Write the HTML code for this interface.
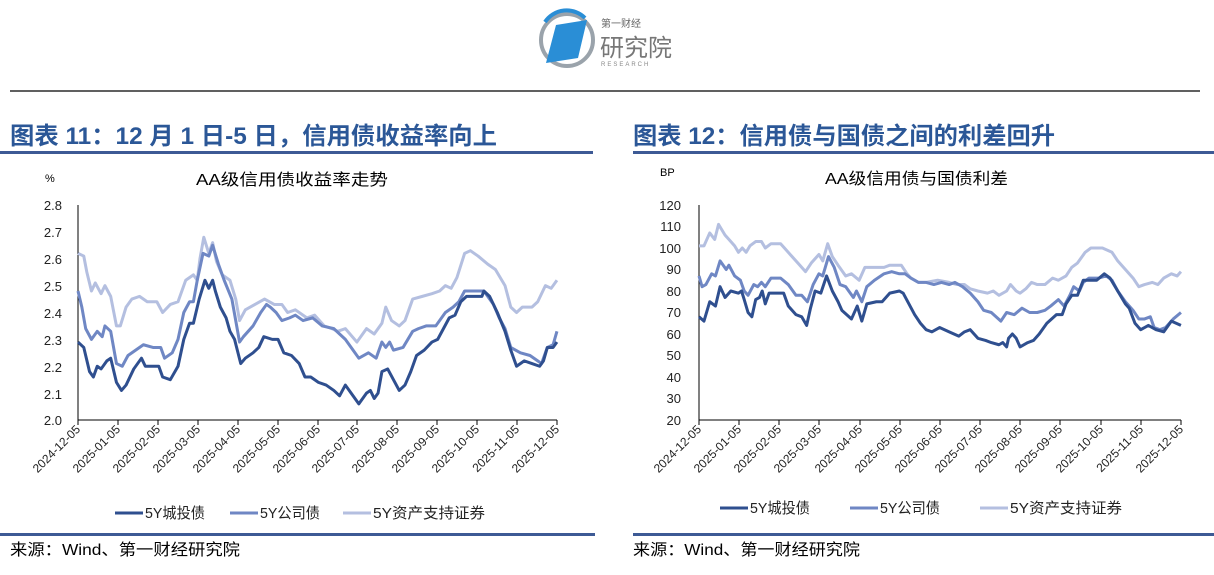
<!DOCTYPE html>
<html><head><meta charset="utf-8"><style>
body{margin:0;background:#fff}
svg text{font-family:"Liberation Sans","Noto Sans CJK SC",sans-serif}
</style></head><body>
<svg width="1214" height="570" xmlns="http://www.w3.org/2000/svg">
<!-- logo -->
<circle cx="567" cy="40" r="26" fill="none" stroke="#9aa3ab" stroke-width="4"/>
<path d="M545 22 A26 26 0 0 1 585 18" fill="none" stroke="#2a8ed6" stroke-width="4"/>
<polygon points="556,25 587,20 578,58 546,63" fill="#2a8ed6"/>
<text x="601" y="27" font-size="10" fill="#666">第一财经</text>
<text x="600" y="56" font-size="24" fill="#777">研究院</text>
<text x="601" y="66" font-size="6" fill="#888" letter-spacing="2">RESEARCH</text>
<line x1="10" y1="91" x2="1200" y2="91" stroke="#000" stroke-width="1.2"/>
<!-- titles -->
<text x="10" y="144" font-size="24" font-weight="bold" fill="#2b5797" textLength="487" lengthAdjust="spacingAndGlyphs">图表 11：12 月 1 日-5 日，信用债收益率向上</text>
<text x="633" y="144" font-size="24" font-weight="bold" fill="#2b5797" textLength="422" lengthAdjust="spacingAndGlyphs">图表 12：信用债与国债之间的利差回升</text>
<rect x="0" y="151" width="593" height="3" fill="#3d5a95"/>
<rect x="633" y="151" width="581" height="3" fill="#3d5a95"/>
<rect x="0" y="533" width="595" height="3" fill="#3d5a95"/>
<rect x="633" y="533" width="581" height="3" fill="#3d5a95"/>
<text x="10" y="555" font-size="16" fill="#000" textLength="230" lengthAdjust="spacingAndGlyphs">来源：Wind、第一财经研究院</text>
<text x="633" y="555" font-size="16" fill="#000" textLength="227" lengthAdjust="spacingAndGlyphs">来源：Wind、第一财经研究院</text>

<!-- LEFT chart -->
<text x="45" y="182" font-size="11">%</text>
<text x="196" y="185" font-size="16" textLength="192" lengthAdjust="spacingAndGlyphs">AA级信用债收益率走势</text>
<g font-size="13" text-anchor="end" fill="#222">
<text x="62" y="210">2.8</text><text x="62" y="237">2.7</text><text x="62" y="264">2.6</text><text x="62" y="291">2.5</text><text x="62" y="318">2.4</text><text x="62" y="345">2.3</text><text x="62" y="372">2.2</text><text x="62" y="399">2.1</text><text x="62" y="425">2.0</text>
</g>
<line x1="78" y1="205" x2="78" y2="420" stroke="#000"/>
<line x1="78" y1="420" x2="557" y2="420" stroke="#000"/>
<g stroke="#000">
<line x1="78" y1="420" x2="78" y2="425"/><line x1="118" y1="420" x2="118" y2="425"/><line x1="158" y1="420" x2="158" y2="425"/><line x1="198" y1="420" x2="198" y2="425"/><line x1="238" y1="420" x2="238" y2="425"/><line x1="278" y1="420" x2="278" y2="425"/><line x1="318" y1="420" x2="318" y2="425"/><line x1="357" y1="420" x2="357" y2="425"/><line x1="397" y1="420" x2="397" y2="425"/><line x1="437" y1="420" x2="437" y2="425"/><line x1="477" y1="420" x2="477" y2="425"/><line x1="517" y1="420" x2="517" y2="425"/><line x1="557" y1="420" x2="557" y2="425"/>
</g>
<g font-size="12" text-anchor="end" fill="#222">
<text transform="translate(81,430) rotate(-45)">2024-12-05</text>
<text transform="translate(121,430) rotate(-45)">2025-01-05</text>
<text transform="translate(161,430) rotate(-45)">2025-02-05</text>
<text transform="translate(201,430) rotate(-45)">2025-03-05</text>
<text transform="translate(241,430) rotate(-45)">2025-04-05</text>
<text transform="translate(281,430) rotate(-45)">2025-05-05</text>
<text transform="translate(321,430) rotate(-45)">2025-06-05</text>
<text transform="translate(360,430) rotate(-45)">2025-07-05</text>
<text transform="translate(400,430) rotate(-45)">2025-08-05</text>
<text transform="translate(440,430) rotate(-45)">2025-09-05</text>
<text transform="translate(480,430) rotate(-45)">2025-10-05</text>
<text transform="translate(520,430) rotate(-45)">2025-11-05</text>
<text transform="translate(560,430) rotate(-45)">2025-12-05</text>
</g>
<g transform="translate(-0.87,420) scale(0.3847,-268.75)" fill="none" stroke-width="3" stroke-linejoin="round">
<polyline vector-effect="non-scaling-stroke" stroke="#b4bfe0" points="205,0.62 220,0.61 228,0.55 240,0.48 250,0.51 265,0.47 275,0.50 290,0.46 305,0.35 315,0.35 330,0.42 345,0.45 365,0.46 385,0.44 410,0.44 425,0.40 445,0.43 465,0.44 485,0.52 505,0.54 515,0.52 522,0.60 532,0.68 545,0.62 555,0.66 565,0.59 580,0.54 600,0.52 615,0.45 625,0.37 640,0.41 665,0.43 690,0.45 715,0.43 735,0.43 750,0.40 770,0.41 800,0.38 820,0.39 845,0.35 865,0.34 880,0.33 900,0.34 930,0.29 955,0.34 975,0.32 995,0.36 1005,0.42 1020,0.37 1040,0.35 1055,0.37 1075,0.45 1100,0.46 1125,0.47 1145,0.48 1160,0.50 1175,0.49 1190,0.53 1210,0.62 1225,0.63 1245,0.61 1270,0.58 1290,0.56 1315,0.50 1330,0.42 1345,0.40 1360,0.42 1385,0.42 1400,0.44 1420,0.50 1435,0.49 1450,0.52"/>
<polyline vector-effect="non-scaling-stroke" stroke="#6f87c4" points="205,0.48 215,0.42 225,0.34 240,0.30 255,0.33 268,0.31 275,0.35 290,0.33 305,0.21 320,0.20 335,0.24 355,0.26 375,0.28 400,0.27 420,0.27 430,0.23 450,0.25 465,0.30 480,0.40 495,0.44 505,0.44 515,0.52 530,0.62 545,0.61 555,0.65 570,0.58 585,0.52 605,0.45 625,0.29 635,0.31 660,0.35 680,0.40 695,0.43 705,0.42 720,0.40 735,0.37 755,0.38 770,0.39 790,0.37 815,0.38 840,0.35 870,0.34 900,0.30 920,0.26 935,0.23 960,0.25 980,0.23 995,0.29 1005,0.27 1015,0.29 1025,0.26 1050,0.27 1075,0.33 1090,0.34 1110,0.35 1135,0.35 1160,0.40 1180,0.42 1195,0.44 1210,0.48 1260,0.48 1285,0.43 1300,0.38 1315,0.34 1330,0.27 1355,0.25 1380,0.24 1400,0.22 1410,0.21 1425,0.27 1440,0.28 1450,0.33"/>
<polyline vector-effect="non-scaling-stroke" stroke="#2f4f8f" points="205,0.29 220,0.27 235,0.18 245,0.16 255,0.20 265,0.19 280,0.22 290,0.23 305,0.14 318,0.11 330,0.13 350,0.19 370,0.23 380,0.20 415,0.20 425,0.16 445,0.15 465,0.20 480,0.30 495,0.36 505,0.36 520,0.45 535,0.52 545,0.49 555,0.52 562,0.48 575,0.42 590,0.38 600,0.33 612,0.30 628,0.21 640,0.23 660,0.25 675,0.27 688,0.31 710,0.30 725,0.30 740,0.25 760,0.24 780,0.21 795,0.16 810,0.16 830,0.14 850,0.13 870,0.11 885,0.09 900,0.13 915,0.10 935,0.06 955,0.10 965,0.11 975,0.08 985,0.10 995,0.18 1010,0.19 1025,0.15 1040,0.11 1055,0.13 1070,0.18 1085,0.24 1105,0.26 1125,0.29 1140,0.30 1155,0.34 1170,0.38 1185,0.39 1200,0.44 1215,0.46 1255,0.46 1260,0.48 1275,0.46 1295,0.40 1315,0.33 1330,0.26 1345,0.20 1365,0.22 1385,0.21 1405,0.20 1415,0.22 1425,0.27 1440,0.27 1450,0.29"/>
</g>
<g font-size="15" fill="#222">
<line x1="115" y1="513" x2="143" y2="513" stroke="#2f4f8f" stroke-width="3"/><text x="145" y="518" textLength="60" lengthAdjust="spacingAndGlyphs">5Y城投债</text>
<line x1="230" y1="513" x2="258" y2="513" stroke="#6f87c4" stroke-width="3"/><text x="260" y="518" textLength="60" lengthAdjust="spacingAndGlyphs">5Y公司债</text>
<line x1="343" y1="513" x2="371" y2="513" stroke="#b4bfe0" stroke-width="3"/><text x="373" y="518" textLength="112" lengthAdjust="spacingAndGlyphs">5Y资产支持证券</text>
</g>

<!-- RIGHT chart -->
<text x="660" y="176" font-size="11">BP</text>
<text x="825" y="184" font-size="16" textLength="183" lengthAdjust="spacingAndGlyphs">AA级信用债与国债利差</text>
<g font-size="13" text-anchor="end" fill="#222">
<text x="681" y="210">120</text><text x="681" y="231">110</text><text x="681" y="253">100</text><text x="681" y="274">90</text><text x="681" y="296">80</text><text x="681" y="317">70</text><text x="681" y="339">60</text><text x="681" y="360">50</text><text x="681" y="382">40</text><text x="681" y="403">30</text><text x="681" y="425">20</text>
</g>
<line x1="699" y1="205" x2="699" y2="420" stroke="#000"/>
<line x1="699" y1="420" x2="1181" y2="420" stroke="#000"/>
<g stroke="#000">
<line x1="699" y1="420" x2="699" y2="425"/><line x1="739" y1="420" x2="739" y2="425"/><line x1="779" y1="420" x2="779" y2="425"/><line x1="819" y1="420" x2="819" y2="425"/><line x1="860" y1="420" x2="860" y2="425"/><line x1="900" y1="420" x2="900" y2="425"/><line x1="940" y1="420" x2="940" y2="425"/><line x1="980" y1="420" x2="980" y2="425"/><line x1="1020" y1="420" x2="1020" y2="425"/><line x1="1060" y1="420" x2="1060" y2="425"/><line x1="1101" y1="420" x2="1101" y2="425"/><line x1="1141" y1="420" x2="1141" y2="425"/><line x1="1181" y1="420" x2="1181" y2="425"/>
</g>
<g font-size="12" text-anchor="end" fill="#222">
<text transform="translate(702,430) rotate(-45)">2024-12-05</text>
<text transform="translate(742,430) rotate(-45)">2025-01-05</text>
<text transform="translate(782,430) rotate(-45)">2025-02-05</text>
<text transform="translate(822,430) rotate(-45)">2025-03-05</text>
<text transform="translate(863,430) rotate(-45)">2025-04-05</text>
<text transform="translate(903,430) rotate(-45)">2025-05-05</text>
<text transform="translate(943,430) rotate(-45)">2025-06-05</text>
<text transform="translate(983,430) rotate(-45)">2025-07-05</text>
<text transform="translate(1023,430) rotate(-45)">2025-08-05</text>
<text transform="translate(1063,430) rotate(-45)">2025-09-05</text>
<text transform="translate(1104,430) rotate(-45)">2025-10-05</text>
<text transform="translate(1144,430) rotate(-45)">2025-11-05</text>
<text transform="translate(1184,430) rotate(-45)">2025-12-05</text>
</g>
<g transform="translate(619.7,463) scale(0.3831,-2.15)" fill="none" stroke-width="3" stroke-linejoin="round">
<polyline vector-effect="non-scaling-stroke" stroke="#b4bfe0" points="207,101 220,101 235,107 248,104 258,111 275,106 285,104 300,101 310,98 320,100 330,98 340,101 355,103 370,103 380,100 395,102 420,102 430,100 445,97 465,93 485,89 500,93 520,97 530,94 543,102 555,96 570,92 590,87 605,88 625,85 640,91 665,91 690,91 705,92 735,92 750,88 760,86 780,84 800,84 830,85 860,84 880,83 900,83 915,81 935,80 960,79 975,80 990,78 1010,80 1020,83 1035,80 1045,79 1060,81 1075,84 1090,83 1110,83 1130,86 1145,85 1165,87 1180,91 1195,93 1215,98 1230,100 1260,100 1285,98 1300,94 1320,90 1340,86 1355,82 1370,83 1390,84 1405,83 1420,86 1440,88 1455,87 1465,89"/>
<polyline vector-effect="non-scaling-stroke" stroke="#6f87c4" points="207,87 215,82 225,83 240,88 250,87 262,94 278,90 285,92 300,87 315,85 325,80 335,78 350,83 360,82 370,84 380,82 395,86 420,86 440,83 460,78 475,78 490,75 505,83 520,88 530,87 545,96 560,91 575,83 590,82 610,77 618,80 632,75 645,82 665,85 690,88 710,89 730,88 745,88 760,86 780,84 800,84 820,83 840,84 860,83 875,84 895,82 915,79 935,75 950,71 970,70 995,66 1010,70 1030,69 1050,72 1070,70 1090,70 1110,71 1125,73 1145,76 1160,73 1175,78 1185,82 1200,80 1210,84 1225,86 1250,86 1270,87 1285,85 1300,80 1320,75 1340,71 1355,67 1370,67 1385,68 1395,63 1410,62 1425,63 1445,67 1465,70"/>
<polyline vector-effect="non-scaling-stroke" stroke="#2f4f8f" points="207,68 220,66 235,75 250,73 262,82 275,77 290,80 310,79 318,80 325,76 335,70 345,68 355,76 365,77 372,80 380,74 390,79 420,79 428,79 440,73 460,69 475,68 488,64 498,72 510,80 525,79 540,87 555,80 570,75 580,71 605,67 620,73 632,66 645,74 670,75 685,75 705,79 730,80 740,79 755,74 770,69 785,65 800,62 815,61 835,63 860,61 885,59 900,61 915,62 935,58 955,57 970,56 990,55 1000,56 1010,54 1015,58 1025,60 1035,58 1045,54 1065,56 1080,57 1095,60 1115,65 1140,69 1155,69 1165,74 1180,78 1195,78 1210,85 1245,85 1265,88 1280,86 1300,80 1320,74 1330,72 1345,65 1360,62 1380,64 1400,62 1420,61 1440,66 1465,64"/>
</g>
<g font-size="15" fill="#222">
<line x1="720" y1="508" x2="748" y2="508" stroke="#2f4f8f" stroke-width="3"/><text x="750" y="513" textLength="60" lengthAdjust="spacingAndGlyphs">5Y城投债</text>
<line x1="850" y1="508" x2="878" y2="508" stroke="#6f87c4" stroke-width="3"/><text x="880" y="513" textLength="60" lengthAdjust="spacingAndGlyphs">5Y公司债</text>
<line x1="980" y1="508" x2="1008" y2="508" stroke="#b4bfe0" stroke-width="3"/><text x="1010" y="513" textLength="112" lengthAdjust="spacingAndGlyphs">5Y资产支持证券</text>
</g>
</svg>
</body></html>
